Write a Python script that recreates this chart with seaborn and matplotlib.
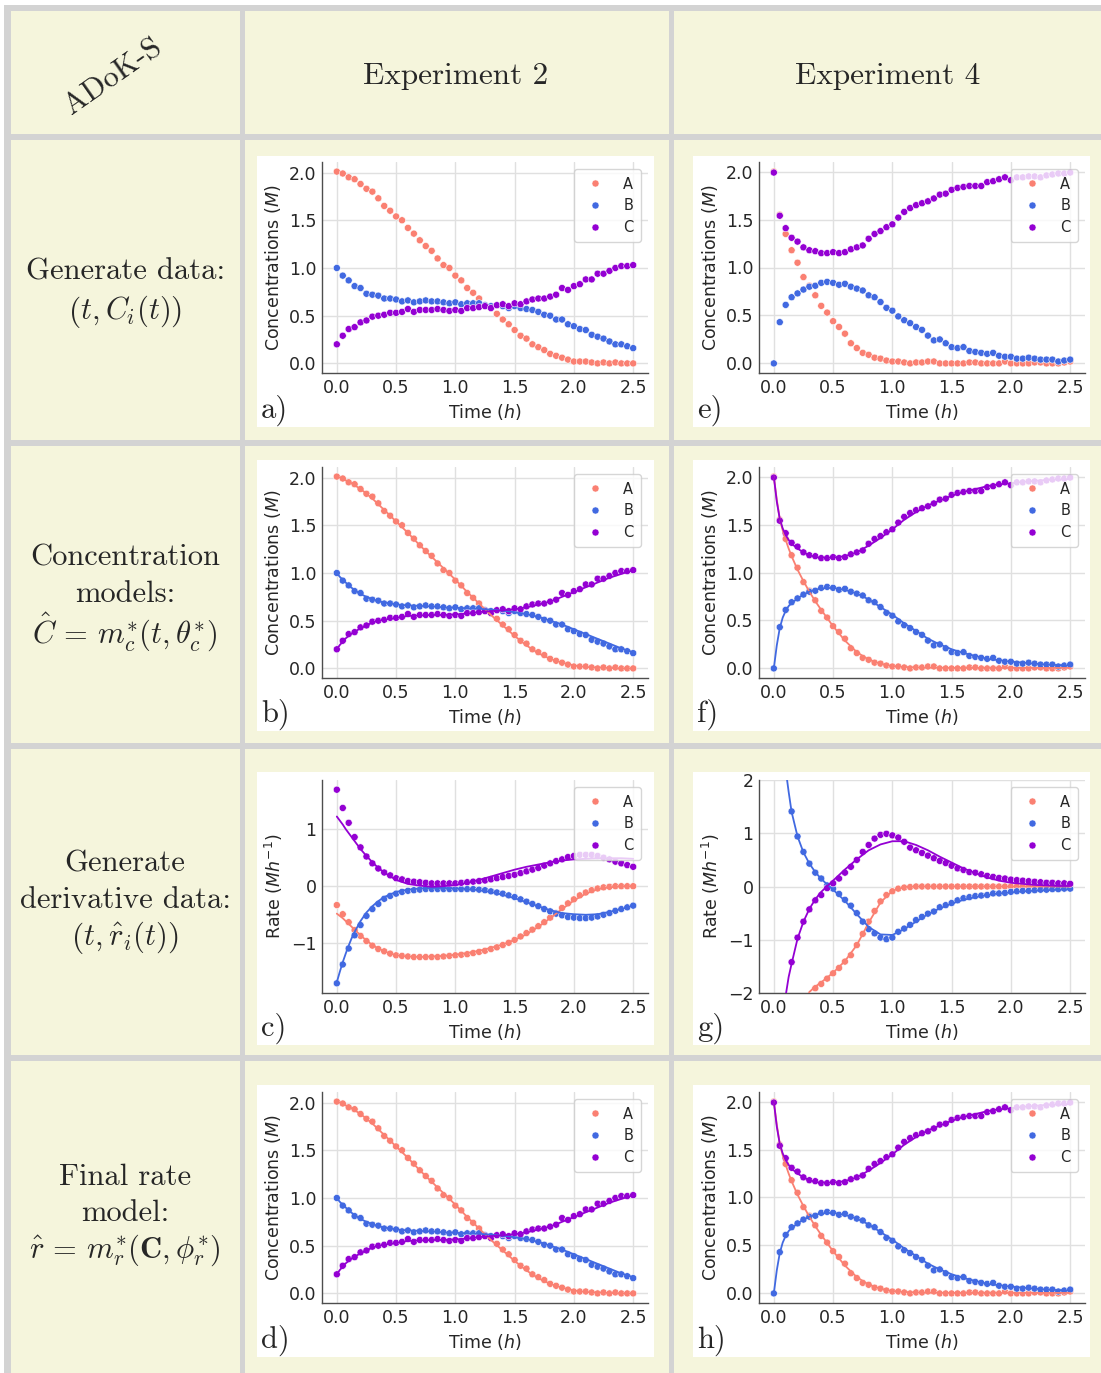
import matplotlib
matplotlib.use("Agg")
import matplotlib.pyplot as plt
from matplotlib.patches import Rectangle
import pandas as pd
import seaborn as sns

# ---------------- data ----------------
TIME = [0.00, 0.05, 0.10, 0.15, 0.20, 0.25, 0.30, 0.35, 0.40, 0.45,
        0.50, 0.55, 0.60, 0.65, 0.70, 0.75, 0.80, 0.85, 0.90, 0.95,
        1.00, 1.05, 1.10, 1.15, 1.20, 1.25, 1.30, 1.35, 1.40, 1.45,
        1.50, 1.55, 1.60, 1.65, 1.70, 1.75, 1.80, 1.85, 1.90, 1.95,
        2.00, 2.05, 2.10, 2.15, 2.20, 2.25, 2.30, 2.35, 2.40, 2.45,
        2.50]
LINE_T = [0.0, 0.025, 0.05, 0.075, 0.1, 0.125, 0.15,
          0.2, 0.25, 0.3, 0.35, 0.4,
          0.5, 0.6, 0.7, 0.8, 0.9, 1.0, 1.1, 1.2, 1.3, 1.4, 1.5, 1.6, 1.7, 1.8,
          1.9, 2.0, 2.1, 2.2, 2.3, 2.4, 2.5]
SPECIES = ["A", "B", "C"]

# Experiment 2 concentrations (points)
EXP2_A = [2.01, 1.99, 1.95, 1.93, 1.88, 1.83, 1.80, 1.73, 1.65, 1.60,
          1.54, 1.50, 1.42, 1.36, 1.29, 1.23, 1.18, 1.10, 1.03, 1.00,
          0.92, 0.87, 0.79, 0.74, 0.68, 0.61, 0.58, 0.52, 0.46, 0.41,
          0.35, 0.29, 0.26, 0.20, 0.17, 0.14, 0.10, 0.08, 0.06, 0.04,
          0.02, 0.02, 0.02, 0.01, 0.00, 0.01, 0.00, 0.01, 0.00, 0.00,
          0.00]
EXP2_B = [1.00, 0.92, 0.87, 0.81, 0.79, 0.73, 0.72, 0.71, 0.68, 0.68,
          0.67, 0.65, 0.66, 0.64, 0.65, 0.66, 0.65, 0.65, 0.64, 0.63,
          0.64, 0.62, 0.63, 0.63, 0.63, 0.61, 0.60, 0.61, 0.60, 0.58,
          0.60, 0.58, 0.57, 0.56, 0.54, 0.51, 0.50, 0.46, 0.46, 0.41,
          0.39, 0.36, 0.35, 0.30, 0.28, 0.26, 0.23, 0.20, 0.20, 0.18,
          0.16]
EXP2_C = [0.20, 0.29, 0.36, 0.38, 0.43, 0.45, 0.49, 0.50, 0.51, 0.53,
          0.53, 0.54, 0.57, 0.54, 0.56, 0.56, 0.56, 0.57, 0.56, 0.55,
          0.56, 0.55, 0.58, 0.58, 0.59, 0.60, 0.58, 0.61, 0.62, 0.60,
          0.63, 0.62, 0.65, 0.67, 0.68, 0.68, 0.70, 0.72, 0.79, 0.77,
          0.81, 0.83, 0.88, 0.88, 0.94, 0.94, 0.97, 1.00, 1.02, 1.02,
          1.03]

# Experiment 4 concentrations (points)
EXP4_A = [2.00, 1.55, 1.35, 1.18, 1.05, 0.90, 0.81, 0.71, 0.60, 0.53,
          0.44, 0.38, 0.31, 0.21, 0.16, 0.11, 0.09, 0.06, 0.05, 0.03,
          0.02, 0.02, 0.01, 0.00, 0.01, 0.01, 0.02, 0.02, 0.00, 0.00,
          0.00, 0.00, 0.00, 0.01, 0.01, 0.00, 0.00, 0.00, 0.00, 0.02,
          0.00, 0.00, 0.00, 0.00, 0.01, 0.01, 0.00, 0.00, 0.00, 0.01,
          0.02]
EXP4_B = [0.00, 0.43, 0.61, 0.69, 0.73, 0.77, 0.80, 0.81, 0.84, 0.85,
          0.84, 0.82, 0.83, 0.80, 0.78, 0.76, 0.71, 0.69, 0.64, 0.58,
          0.55, 0.49, 0.45, 0.42, 0.38, 0.35, 0.29, 0.24, 0.25, 0.21,
          0.17, 0.16, 0.17, 0.13, 0.12, 0.11, 0.10, 0.11, 0.08, 0.07,
          0.07, 0.05, 0.05, 0.06, 0.05, 0.04, 0.04, 0.04, 0.02, 0.03,
          0.04]
EXP4_C = [1.99, 1.54, 1.41, 1.31, 1.27, 1.21, 1.18, 1.17, 1.15, 1.15,
          1.16, 1.15, 1.16, 1.19, 1.21, 1.23, 1.30, 1.35, 1.38, 1.42,
          1.45, 1.52, 1.58, 1.62, 1.65, 1.67, 1.69, 1.72, 1.76, 1.77,
          1.81, 1.83, 1.84, 1.85, 1.85, 1.85, 1.89, 1.90, 1.92, 1.94,
          1.91, 1.94, 1.94, 1.95, 1.95, 1.94, 1.96, 1.97, 1.98, 1.98,
          1.99]

# Experiment 2 rates (points)
RATE2_A = [-0.33, -0.49, -0.63, -0.77, -0.87, -0.96, -1.04, -1.10, -1.14, -1.18,
           -1.21, -1.22, -1.23, -1.24, -1.24, -1.24, -1.24, -1.24, -1.23, -1.22,
           -1.21, -1.20, -1.19, -1.17, -1.15, -1.13, -1.10, -1.07, -1.03, -0.99,
           -0.94, -0.88, -0.82, -0.76, -0.70, -0.63, -0.55, -0.47, -0.38, -0.30,
           -0.23, -0.16, -0.11, -0.07, -0.04, -0.02, -0.01, 0.00, 0.00, 0.00,
           0.00]
RATE2_B = [-1.70, -1.37, -1.09, -0.86, -0.68, -0.52, -0.40, -0.31, -0.22, -0.17,
           -0.13, -0.10, -0.08, -0.07, -0.06, -0.05, -0.05, -0.05, -0.05, -0.05,
           -0.05, -0.05, -0.05, -0.05, -0.06, -0.07, -0.09, -0.11, -0.13, -0.16,
           -0.19, -0.23, -0.27, -0.31, -0.35, -0.40, -0.44, -0.48, -0.51, -0.54,
           -0.55, -0.56, -0.56, -0.55, -0.53, -0.50, -0.47, -0.43, -0.40, -0.37,
           -0.34]
RATE2_C = [1.69, 1.37, 1.11, 0.86, 0.68, 0.52, 0.40, 0.31, 0.24, 0.19,
           0.14, 0.12, 0.09, 0.08, 0.07, 0.06, 0.05, 0.05, 0.05, 0.05,
           0.05, 0.06, 0.07, 0.08, 0.09, 0.10, 0.12, 0.14, 0.16, 0.18,
           0.20, 0.23, 0.26, 0.29, 0.32, 0.36, 0.40, 0.44, 0.47, 0.51,
           0.53, 0.55, 0.55, 0.55, 0.53, 0.50, 0.47, 0.43, 0.40, 0.37,
           0.34]

# Experiment 4 rates (points)
RATE4_A = [-10.5, -7.0, -5.0, -3.7, -2.9, -2.45, -2.10, -1.91, -1.83, -1.73,
           -1.63, -1.53, -1.41, -1.29, -1.10, -0.89, -0.66, -0.46, -0.28, -0.16,
           -0.09, -0.04, -0.02, -0.01, 0.00, 0.00, 0.00, 0.00, 0.00, 0.00,
           0.00, 0.00, 0.00, 0.00, 0.00, 0.00, 0.00, 0.00, 0.00, 0.00,
           0.00, 0.00, 0.00, 0.00, 0.00, 0.00, 0.00, 0.00, 0.00, 0.00,
           0.00]
RATE4_B = [8.8, 4.5, 2.3, 1.41, 0.94, 0.65, 0.43, 0.26, 0.15, 0.02,
           -0.04, -0.14, -0.25, -0.36, -0.50, -0.66, -0.80, -0.88, -0.96, -0.99,
           -0.96, -0.85, -0.79, -0.72, -0.63, -0.57, -0.51, -0.47, -0.39, -0.35,
           -0.31, -0.26, -0.22, -0.20, -0.18, -0.17, -0.16, -0.13, -0.13, -0.12,
           -0.10, -0.09, -0.08, -0.08, -0.07, -0.06, -0.06, -0.05, -0.05, -0.04,
           -0.04]
RATE4_C = [-8.5, -3.6, -2.2, -1.42, -0.96, -0.66, -0.43, -0.26, -0.16, -0.03,
           0.06, 0.15, 0.26, 0.37, 0.50, 0.65, 0.78, 0.90, 0.97, 0.99,
           0.96, 0.92, 0.84, 0.73, 0.68, 0.63, 0.58, 0.53, 0.48, 0.44,
           0.39, 0.34, 0.31, 0.27, 0.26, 0.23, 0.20, 0.18, 0.16, 0.15,
           0.13, 0.12, 0.11, 0.10, 0.09, 0.08, 0.07, 0.07, 0.06, 0.06,
           0.05]

# Model curves (on LINE_T)
FIT2_A = [2.01, 2.00, 1.99, 1.97, 1.96, 1.94, 1.92,
          1.88, 1.83, 1.78, 1.72, 1.66,
          1.54, 1.42, 1.29, 1.17, 1.05, 0.93, 0.80, 0.68, 0.56, 0.45, 0.34,
          0.24, 0.16, 0.10, 0.06, 0.03, 0.015, 0.01, 0.005, 0.0, 0.0]
FIT2_B = [1.00, 0.96, 0.93, 0.90, 0.87, 0.845, 0.82,
          0.78, 0.75, 0.725, 0.705, 0.69,
          0.67, 0.66, 0.655, 0.65, 0.64, 0.635, 0.63, 0.625, 0.615, 0.605, 0.59,
          0.57, 0.54, 0.50, 0.46, 0.41, 0.36, 0.31, 0.26, 0.21, 0.17]
FIT2_C = [0.20, 0.245, 0.28, 0.315, 0.34, 0.365, 0.385,
          0.42, 0.45, 0.48, 0.50, 0.51,
          0.53, 0.55, 0.555, 0.56, 0.56, 0.565, 0.575, 0.59, 0.60, 0.61, 0.62,
          0.64, 0.67, 0.70, 0.75, 0.80, 0.85, 0.90, 0.95, 0.99, 1.03]

FIT4_A = [2.00, 1.76, 1.56, 1.44, 1.34, 1.25, 1.17,
          1.03, 0.91, 0.80, 0.70, 0.61,
          0.44, 0.29, 0.17, 0.09, 0.05, 0.025, 0.015, 0.01, 0.008, 0.006, 0.005,
          0.005, 0.005, 0.005, 0.005, 0.005, 0.005, 0.005, 0.005, 0.005, 0.005]
FIT4_B = [0.00, 0.24, 0.42, 0.53, 0.60, 0.65, 0.68,
          0.73, 0.77, 0.80, 0.82, 0.835,
          0.84, 0.82, 0.78, 0.72, 0.64, 0.56, 0.47, 0.39, 0.31, 0.25, 0.20,
          0.16, 0.13, 0.10, 0.085, 0.07, 0.06, 0.05, 0.04, 0.035, 0.03]
FIT4_C = [2.00, 1.74, 1.56, 1.46, 1.39, 1.34, 1.30,
          1.25, 1.21, 1.18, 1.16, 1.155,
          1.155, 1.17, 1.21, 1.28, 1.36, 1.45, 1.55, 1.63, 1.70, 1.75, 1.80,
          1.84, 1.87, 1.90, 1.92, 1.93, 1.945, 1.955, 1.965, 1.97, 1.975]

FITR2_A = [-0.48, -0.52, -0.56, -0.61, -0.66, -0.71, -0.76,
           -0.86, -0.95, -1.03, -1.09, -1.14,
           -1.21, -1.23, -1.24, -1.23, -1.22, -1.20, -1.17, -1.13, -1.08, -1.02, -0.94,
           -0.84, -0.71, -0.56, -0.40, -0.25, -0.13, -0.05, -0.02, 0.0, 0.0]
FITR2_B = [-1.68, -1.50, -1.33, -1.18, -1.04, -0.91, -0.80,
           -0.61, -0.46, -0.35, -0.26, -0.19,
           -0.10, -0.06, -0.04, -0.03, -0.03, -0.04, -0.05, -0.07, -0.10, -0.15, -0.21,
           -0.28, -0.35, -0.42, -0.47, -0.49, -0.50, -0.49, -0.45, -0.40, -0.34]
FITR2_C = [1.22, 1.15, 1.08, 1.00, 0.93, 0.86, 0.79,
           0.65, 0.53, 0.42, 0.32, 0.24,
           0.11, 0.04, 0.01, -0.01, 0.00, 0.02, 0.06, 0.11, 0.17, 0.23, 0.29,
           0.34, 0.38, 0.42, 0.45, 0.47, 0.48, 0.49, 0.49, 0.49, 0.48]

FITR4_A = [-10.0, -8.0, -6.5, -5.3, -4.5, -3.9, -3.4,
           -2.7, -2.3, -1.98, -1.88, -1.80,
           -1.62, -1.40, -1.10, -0.68, -0.30, -0.08, -0.01, 0.0, 0.0, 0.0, 0.0,
           0.0, 0.0, 0.0, 0.0, 0.0, 0.0, 0.0, 0.0, 0.0, 0.0]
FITR4_B = [8.5, 6.0, 4.4, 3.2, 2.2, 1.78, 1.40,
           0.94, 0.64, 0.43, 0.27, 0.14,
           -0.06, -0.27, -0.52, -0.76, -0.90, -0.91, -0.80, -0.66, -0.52, -0.41, -0.32,
           -0.25, -0.20, -0.16, -0.13, -0.11, -0.09, -0.08, -0.07, -0.06, -0.05]
FITR4_C = [-9.0, -5.0, -3.4, -2.6, -2.05, -1.70, -1.45,
           -0.98, -0.66, -0.42, -0.24, -0.10,
           0.11, 0.32, 0.51, 0.68, 0.79, 0.85, 0.85, 0.78, 0.68, 0.56, 0.45,
           0.34, 0.25, 0.17, 0.11, 0.07, 0.05, 0.03, 0.02, 0.01, 0.01]

ROW_TITLES = [
    ["Generate data:", r"$\left(t, C_i(t)\right)$"],
    ["Concentration", "models:", r"$\hat{C}\,=\,m_c^{*}(t, \mathbf{\theta}_c^{*})$"],
    ["Generate", "derivative data:", r"$\left(t, \hat{r}_i(t)\right)$"],
    ["Final rate", "model:", r"$\hat{r}\,=\,m_r^{*}(\mathbf{C}, \mathbf{\phi}_r^{*})$"],
]
COL_TITLES = ["Experiment 2", "Experiment 4"]
CORNER_TITLE = "ADoK-S"
PANEL_LETTERS = ["a)", "b)", "c)", "d)", "e)", "f)", "g)", "h)"]

PALETTE = {"A": "salmon", "B": "royalblue", "C": "darkviolet"}

# ---------------- style ----------------
sns.set_theme(style="whitegrid", rc={
    "axes.edgecolor": "0.3",
    "axes.linewidth": 1.0,
    "grid.color": "0.88",
    "grid.linewidth": 1.0,
})
plt.rcParams["font.family"] = ["DejaVu Sans"]
plt.rcParams["font.size"] = 12.5
plt.rcParams["axes.labelsize"] = 12.5
plt.rcParams["xtick.labelsize"] = 12.5
plt.rcParams["ytick.labelsize"] = 12.5
plt.rcParams["legend.fontsize"] = 10.5

W, H = 1101, 1373
fig = plt.figure(figsize=(W / 100, H / 100), dpi=100)
fig.patch.set_facecolor("white")


def frac(x0, y0, x1, y1):
    return [x0 / W, 1 - y1 / H, (x1 - x0) / W, (y1 - y0) / H]


def add_rect(x0, y0, x1, y1, color, z):
    l, b, w, h = frac(x0, y0, x1, y1)
    fig.add_artist(Rectangle((l, b), w, h, transform=fig.transFigure,
                             facecolor=color, edgecolor="none", zorder=z))


def ftext(x, y, s, **kw):
    fig.text(x / W, 1 - y / H, s, **kw)


# table background
add_rect(4, 5, W, H, "#d3d3d3", -10)
cols = [(11, 240), (245, 669), (674, W)]
rows = [(11, 134), (140, 440), (446, 743), (749, 1055), (1061, H)]
for (x0, x1) in cols:
    for (y0, y1) in rows:
        add_rect(x0, y0, x1, y1, "#f5f5dc", -9)

# white panel boxes
box_cols = [(257, 654), (693, 1090)]
box_rows = [(156, 427), (460, 731), (772, 1045), (1085, 1357)]
for (x0, x1) in box_cols:
    for (y0, y1) in box_rows:
        add_rect(x0, y0, x1, y1, "white", -8)

# header texts
SERIF = ["cmr10", "DejaVu Serif"]
ftext(113, 77, CORNER_TITLE, family=SERIF, fontsize=22, rotation=35,
      ha="center", va="center")
ftext(456, 76, COL_TITLES[0], family=SERIF, fontsize=22.5, ha="center", va="center")
ftext(888, 76, COL_TITLES[1], family=SERIF, fontsize=22.5, ha="center", va="center")

row_line_y = [[272, 312], [558, 594, 632], [864, 900, 938], [1177, 1213, 1250]]
for lines, ys in zip(ROW_TITLES, row_line_y):
    for s, y in zip(lines, ys):
        ftext(125, y, s, family=SERIF, fontsize=22, ha="center", va="center",
              math_fontfamily="cm")


def long_df(t, series):
    recs = {"Time": [], "value": [], "Species": []}
    for name, vals in zip(SPECIES, series):
        recs["Time"] += list(t)
        recs["value"] += list(vals)
        recs["Species"] += [name] * len(vals)
    return pd.DataFrame(recs)


ax_cols = [(322, 648), (759, 1085)]
ax_rows = [(162, 373), (467, 678), (780, 993), (1092, 1303)]

panels = [
    # (col, row, points, fits, kind)
    (0, 0, (EXP2_A, EXP2_B, EXP2_C), None, "conc"),
    (0, 1, (EXP2_A, EXP2_B, EXP2_C), (FIT2_A, FIT2_B, FIT2_C), "conc"),
    (0, 2, (RATE2_A, RATE2_B, RATE2_C), (FITR2_A, FITR2_B, FITR2_C), "rate2"),
    (0, 3, (EXP2_A, EXP2_B, EXP2_C), (FIT2_A, FIT2_B, FIT2_C), "conc"),
    (1, 0, (EXP4_A, EXP4_B, EXP4_C), None, "conc"),
    (1, 1, (EXP4_A, EXP4_B, EXP4_C), (FIT4_A, FIT4_B, FIT4_C), "conc"),
    (1, 2, (RATE4_A, RATE4_B, RATE4_C), (FITR4_A, FITR4_B, FITR4_C), "rate4"),
    (1, 3, (EXP4_A, EXP4_B, EXP4_C), (FIT4_A, FIT4_B, FIT4_C), "conc"),
]

for i, (c, r, pts, fits, kind) in enumerate(panels):
    x0, x1 = ax_cols[c]
    y0, y1 = ax_rows[r]
    ax = fig.add_axes(frac(x0, y0, x1, y1))
    sns.scatterplot(data=long_df(TIME, pts), x="Time", y="value", hue="Species",
                    palette=PALETTE, s=26, edgecolor="white", linewidth=0.4,
                    ax=ax, zorder=2)
    if fits is not None:
        sns.lineplot(data=long_df(LINE_T, fits), x="Time", y="value",
                     hue="Species", palette=PALETTE, linewidth=1.3,
                     estimator=None, legend=False, ax=ax, zorder=3)
    ax.set_xlim(-0.125, 2.625)
    ax.set_xticks([0.0, 0.5, 1.0, 1.5, 2.0, 2.5])
    if kind == "conc":
        ax.set_yticks([0.0, 0.5, 1.0, 1.5, 2.0])
        ax.set_ylabel("Concentrations ($M$)")
    elif kind == "rate2":
        ax.set_yticks([-1, 0, 1])
        ax.set_ylabel("Rate ($Mh^{-1}$)")
    else:
        ax.set_ylim(-2, 2)
        ax.set_yticks([-2, -1, 0, 1, 2])
        ax.set_ylabel("Rate ($Mh^{-1}$)")
    ax.set_xlabel("Time ($h$)")
    ax.tick_params(axis="both", pad=4, length=0)
    sns.despine(ax=ax)
    sns.move_legend(ax, "upper right", title=None, frameon=True,
                    fontsize=10.5, handletextpad=0.9, labelspacing=0.45,
                    borderpad=0.5)

    bx0 = box_cols[c][0]
    by1 = box_rows[r][1]
    ftext(bx0 + 4, by1 - 17, PANEL_LETTERS[i], family=SERIF, fontsize=22,
          ha="left", va="center")

fig.savefig("out.png", dpi=100, facecolor=fig.get_facecolor())
